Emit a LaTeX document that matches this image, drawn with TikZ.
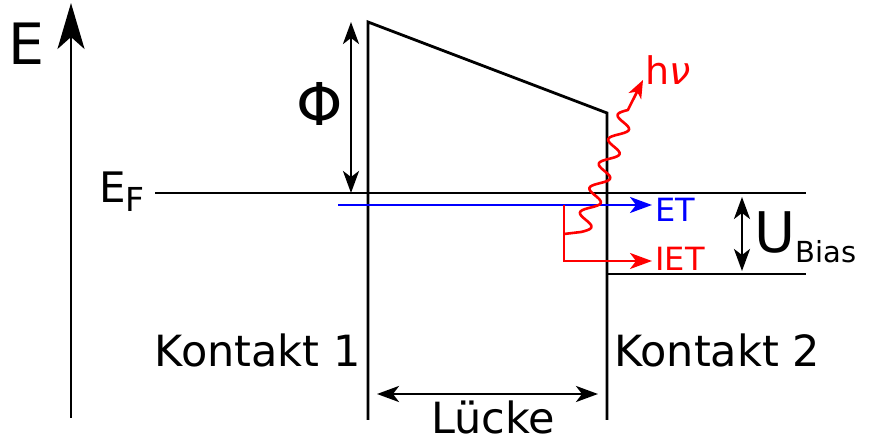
\documentclass[tikz,border=0pt]{standalone}
\usepackage{fontspec}
\setmainfont{DejaVu Sans}[ItalicFont={DejaVu Sans Oblique}]
\usetikzlibrary{arrows.meta}

\begin{document}
\begin{tikzpicture}[
    x=1pt, y=-1pt,
    line width=2.8pt,
    >={Stealth[length=22pt, width=16pt, inset=6pt]},
    axis/.style={
        -{Stealth[length=46pt, width=27pt, inset=12pt]}
    },
    dimarrow/.style={
        <->
    },
    transfer/.style={
        ->,
        line width=2.6pt
    },
    label/.style={
        inner sep=0pt,
        font=\fontsize{43}{43}\selectfont
    },
    photon/.style={
        -{Stealth[length=18pt, width=14pt, inset=5pt]},
        red,
        line width=2.6pt,
        line join=round
    }
]

    \useasboundingbox (0,0) rectangle (876,443);

    % Energy axis
    \coordinate (axisbot) at (71,418);
    \coordinate (axistop) at (71,3);
    \draw[axis] (axisbot) -- (axistop);
    \node[label, font=\fontsize{57}{57}\selectfont, anchor=base west] (E) at (7,65) {E};

    % Barrier
    \coordinate (k1bot) at (368,420);
    \coordinate (k1top) at (368,22);
    \coordinate (k2top) at (607,113);
    \coordinate (k2bot) at (607,420);
    \draw (k1bot) -- (k1top) -- (k2top) -- (k2bot);

    % Fermi levels
    \coordinate (ef1start) at (155,193);
    \coordinate (ef1end) at (806,193);
    \coordinate (ef2start) at (607,274);
    \coordinate (ef2end) at (806,274);
    \draw (ef1start) -- (ef1end);
    \draw (ef2start) -- (ef2end);
    \node[label, font=\fontsize{42}{42}\selectfont, anchor=base west] (EF) at (98,203)
        {E{\fontsize{33}{33}\selectfont\raisebox{-9pt}{F}}};

    % Work function
    \coordinate (phitop) at (351,22);
    \coordinate (phibot) at (351,193);
    \draw[dimarrow] (phitop) -- (phibot);
    \node[label, font=\fontsize{59}{59}\selectfont, anchor=base] (phi) at (320,126) {Φ};

    % Bias
    \coordinate (biastop) at (742,197);
    \coordinate (biasbot) at (742,271);
    \draw[dimarrow] (biastop) -- (biasbot);
    \node[label, font=\fontsize{56}{56}\selectfont, anchor=base west] (U) at (753,253)
        {U{\fontsize{29}{29}\selectfont\raisebox{-10pt}{Bias}}};

    % Gap
    \coordinate (gapleft) at (377,394);
    \coordinate (gapright) at (598,394);
    \draw[dimarrow] (gapleft) -- (gapright);
    \node[label, anchor=base] (gap) at (493,434) {Lücke};

    % Contacts
    \node[label, anchor=base east] (k1) at (362,367) {Kontakt 1};
    \node[label, anchor=base west] (k2) at (613,367) {Kontakt 2};

    % Elastic tunneling
    \coordinate (etstart) at (338,205);
    \coordinate (etend) at (652,205);
    \draw[transfer, blue] (etstart) -- (etend);
    \node[label, font=\fontsize{32}{32}\selectfont, anchor=base west, text=blue] (ET) at (654,222) {ET};

    % Inelastic tunneling
    \coordinate (ietstart) at (564,205);
    \coordinate (ietend) at (652,261);
    \draw[transfer, red] (ietstart) |- (ietend);
    \node[label, font=\fontsize{32}{32}\selectfont, anchor=base west, text=red] (IET) at (654,271) {IET};

    % Photon (sine wave from knee up to the straight end)
    \coordinate (photonstart) at (564,234);
    \coordinate (photonknee) at (581,232);
    \coordinate (photonend) at (643,80);
    \draw[photon] (photonstart) -- (photonknee)
        -- plot[domain=0:1, samples=90, smooth]
            ({581+47*\x+8*sin(1800*\x)}, {232-122*\x+1.5*sin(1800*\x)})
        -- (photonend);
    \node[label, font=\fontsize{38}{38}\selectfont, anchor=base west, text=red] (hv) at (644,85) {h{\itshape ν}};

\end{tikzpicture}
\end{document}
